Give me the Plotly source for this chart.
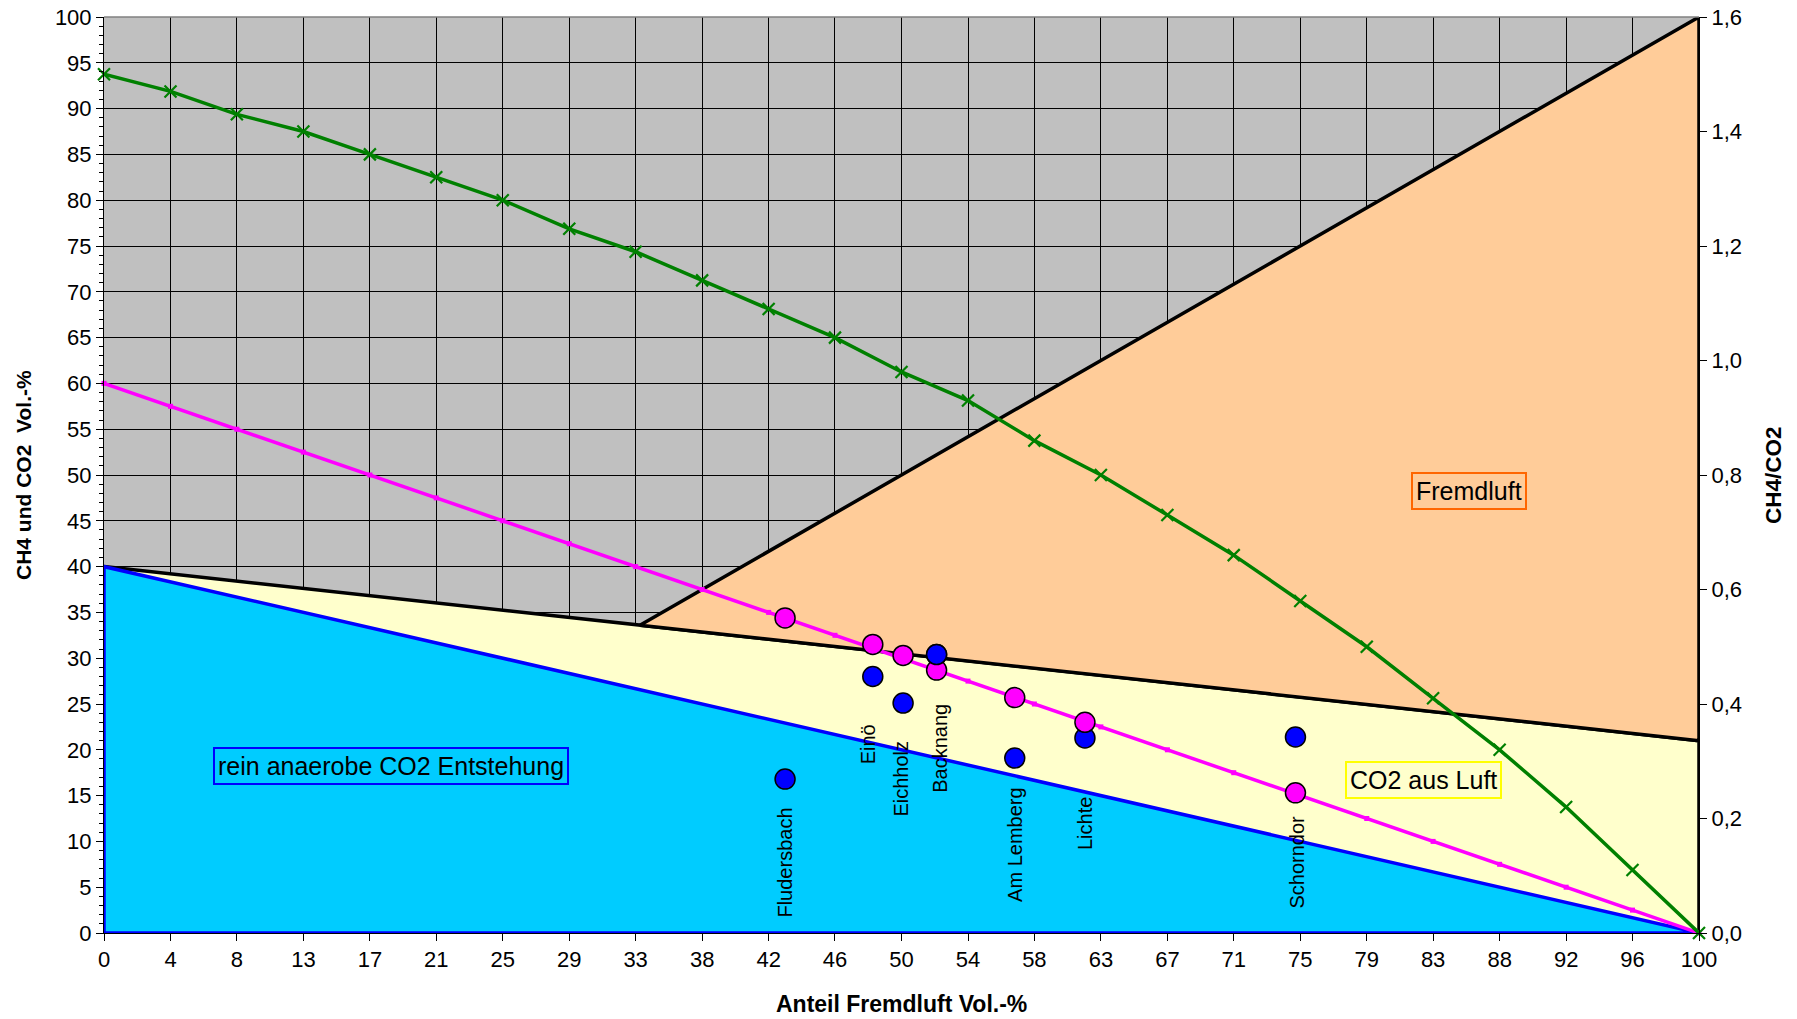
import plotly.graph_objects as go

# ---------------- data ----------------
x_steps = [0, 4.17, 8.33, 12.5, 16.67, 20.83, 25, 29.17, 33.33, 37.5, 41.67, 45.83,
           50, 54.17, 58.33, 62.5, 66.67, 70.83, 75, 79.17, 83.33, 87.5, 91.67, 95.83, 100]
x_ticklabels = ["0", "4", "8", "13", "17", "21", "25", "29", "33", "38", "42", "46",
                "50", "54", "58", "63", "67", "71", "75", "79", "83", "88", "92", "96", "100"]

ch4_line = [60, 57.5, 55, 52.5, 50, 47.5, 45, 42.5, 40, 37.5, 35, 32.5, 30,
            27.5, 25, 22.5, 20, 17.5, 15, 12.5, 10, 7.5, 5, 2.5, 0]
ratio_line = [1.50, 1.47, 1.43, 1.40, 1.36, 1.32, 1.28, 1.23, 1.19, 1.14, 1.09, 1.04, 0.98,
              0.93, 0.86, 0.80, 0.73, 0.66, 0.58, 0.50, 0.41, 0.32, 0.22, 0.11, 0.0]

# regions (polygons)
anaerob_x = [0, 0, 100, 0]
anaerob_y = [0, 40, 0, 0]
luft_x = [0, 100, 100]
luft_y = [40, 21, 0]
fremd_x = [33.6, 100, 100, 33.6]
fremd_y = [33.6, 100, 21, 33.6]

# measurement sites
sites = ["Fludersbach", "Einö", "Eichholz", "Backnang", "Am Lemberg", "Lichte", "Schorndor"]
site_x = [42.7, 48.2, 50.1, 52.2, 57.1, 61.5, 74.7]
site_ch4 = [34.4, 31.5, 30.3, 28.7, 25.7, 23.0, 15.3]
site_co2 = [16.8, 28.0, 25.1, 30.4, 19.1, 21.3, 21.4]
label_x = [42.7, 47.9, 50.0, 52.4, 57.1, 61.5, 74.8]
label_y = [7.7, 20.6, 16.8, 20.2, 9.7, 12.0, 7.7]

# ---------------- figure ----------------
fig = go.Figure()

fig.add_trace(go.Scatter(x=luft_x, y=luft_y, fill="toself", fillcolor="#FFFFCC",
                         line=dict(color="#000000", width=3.5), mode="lines",
                         hoverinfo="skip", showlegend=False))
fig.add_trace(go.Scatter(x=fremd_x, y=fremd_y, fill="toself", fillcolor="#FFCC99",
                         line=dict(color="#000000", width=3.5), mode="lines",
                         hoverinfo="skip", showlegend=False))
fig.add_trace(go.Scatter(x=anaerob_x, y=anaerob_y, fill="toself", fillcolor="#00CCFF",
                         line=dict(color="#0000FF", width=3.5), mode="lines",
                         hoverinfo="skip", showlegend=False))

fig.add_trace(go.Scatter(x=x_steps, y=ch4_line, mode="lines+markers",
                         line=dict(color="#FF00FF", width=3.5),
                         marker=dict(symbol="square", size=5, color="#FF00FF"),
                         cliponaxis=False, showlegend=False))
fig.add_trace(go.Scatter(x=x_steps, y=ratio_line, yaxis="y2", mode="lines+markers",
                         line=dict(color="#008000", width=3.5),
                         marker=dict(symbol="x-thin-open", size=12,
                                     line=dict(color="#008000", width=2.2)),
                         cliponaxis=False, showlegend=False))

pt_marker = dict(size=20, line=dict(color="#000000", width=1.5))
fig.add_trace(go.Scatter(x=site_x, y=site_co2, mode="markers",
                         marker=dict(color="#0000FF", **pt_marker), showlegend=False))
fig.add_trace(go.Scatter(x=site_x, y=site_ch4, mode="markers",
                         marker=dict(color="#FF00FF", **pt_marker), showlegend=False))
fig.add_trace(go.Scatter(x=[site_x[3]], y=[site_co2[3]], mode="markers",
                         marker=dict(color="#0000FF", **pt_marker), showlegend=False))

# site labels
for name, lx, ly in zip(sites, label_x, label_y):
    fig.add_annotation(x=lx, y=ly, text=name, textangle=-90, showarrow=False,
                       font=dict(size=20, color="#000000"))

# region text boxes
boxes = [("rein anaerobe CO2 Entstehung", 18.0, 18.2, "#0000FF"),
         ("Fremdluft", 85.6, 48.3, "#FF6600"),
         ("CO2 aus Luft", 82.7, 16.7, "#FFFF00")]
for txt, bx, by, bc in boxes:
    fig.add_annotation(x=bx, y=by, text=txt, showarrow=False,
                       font=dict(size=25, color="#000000"),
                       bordercolor=bc, borderwidth=2, borderpad=3)

# axis titles
fig.add_annotation(xref="paper", yref="paper", x=-0.0508, y=0.5, xanchor="center", yanchor="middle",
                   text="<b>CH4 und CO2  Vol.-%</b>",
                   textangle=-90, showarrow=False, font=dict(size=21, color="#000000"))
fig.add_annotation(xref="paper", yref="paper", x=1.0464, y=0.5, xanchor="center", yanchor="middle",
                   text="<b>CH4/CO2</b>",
                   textangle=-90, showarrow=False, font=dict(size=22.5, color="#000000"))
fig.add_annotation(xref="paper", yref="paper", x=0.5, y=-0.0775, xanchor="center", yanchor="middle",
                   text="<b>Anteil Fremdluft Vol.-%</b>",
                   showarrow=False, font=dict(size=23, color="#000000"))

fig.update_layout(
    width=1797, height=1019,
    margin=dict(l=104, r=98, t=17, b=86),
    paper_bgcolor="#FFFFFF", plot_bgcolor="#C0C0C0",
    font=dict(family="Liberation Sans, Arial, sans-serif", color="#000000", size=22),
    separators=", ",
    xaxis=dict(range=[0, 100], tickmode="array", tickvals=x_steps, ticktext=x_ticklabels,
               showgrid=True, gridcolor="#000000", gridwidth=1, automargin=False,
               ticks="outside", ticklen=7, tickcolor="#000000",
               showline=True, linecolor="#000000", linewidth=1, zeroline=False,
               tickfont=dict(size=22)),
    yaxis=dict(range=[0, 100], dtick=5, showgrid=True, gridcolor="#000000", gridwidth=1,
               ticks="outside", ticklen=7, tickcolor="#000000", automargin=False,
               minor=dict(dtick=1, ticks="outside", ticklen=4, tickcolor="#000000", showgrid=False),
               showline=True, linecolor="#000000", linewidth=1, zeroline=False,
               tickfont=dict(size=22)),
    yaxis2=dict(range=[0, 1.6], dtick=0.2, tickformat=".1f", overlaying="y", side="right",
                showgrid=False, ticks="outside", ticklen=7, tickcolor="#000000", automargin=False,
                showline=True, linecolor="#000000", linewidth=1, zeroline=False,
                tickfont=dict(size=22)),
    shapes=[dict(type="line", xref="paper", yref="paper", x0=0, x1=1, y0=1, y1=1,
                 line=dict(color="#808080", width=1.5))],
)

fig.write_html("out.html", config={"displayModeBar": False},
               post_script="document.body.style.margin='0';")
